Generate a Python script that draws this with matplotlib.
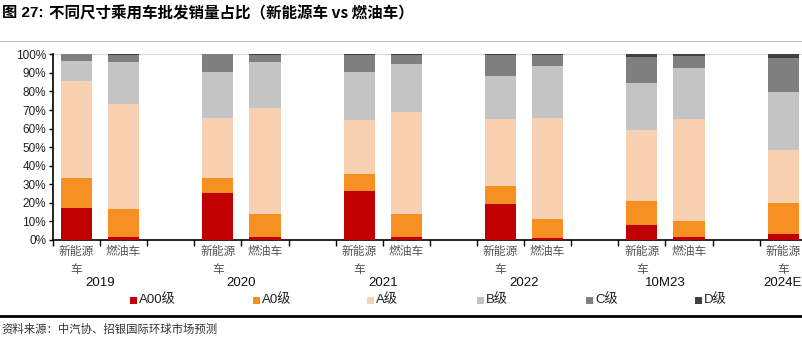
import matplotlib
matplotlib.use("Agg")
import matplotlib.pyplot as plt
from matplotlib.patches import Rectangle
from matplotlib.lines import Line2D
import matplotlib.transforms as mtransforms
import numpy as np

plt.rcParams['font.family'] = ['Liberation Sans', 'Noto Sans CJK SC', 'DejaVu Sans']

years = ['2019', '2020', '2021', '2022', '10M23', '2024E']
types = ['新能源\n车', '燃油车']
segments = ['A00级', 'A0级', 'A级', 'B级', 'C级', 'D级']
colors = ['#C00000', '#F79022', '#F8D1B2', '#C4C4C4', '#7F7F7F', '#404040']

# share (%) per segment: A00, A0, A, B, C, D
nev = [
    [17.4, 16.2, 52.0, 10.8, 3.6, 0.0],
    [25.5, 8.1, 32.3, 24.4, 9.7, 0.0],
    [26.6, 8.8, 29.2, 25.9, 9.2, 0.3],
    [19.6, 9.6, 36.1, 23.2, 11.1, 0.4],
    [8.3, 12.7, 38.2, 25.5, 13.8, 1.5],
    [3.2, 16.5, 28.9, 31.1, 18.3, 2.0],
]
ice = [
    [1.8, 15.1, 56.2, 22.9, 3.7, 0.3],
    [1.8, 12.4, 56.7, 24.8, 4.0, 0.3],
    [1.8, 12.2, 54.9, 25.9, 4.8, 0.4],
    [1.3, 9.8, 54.8, 28.0, 5.6, 0.5],
    [1.4, 8.8, 55.0, 27.4, 6.6, 0.8],
]

W, H = 803, 343
fig = plt.figure(figsize=(W / 100, H / 100), dpi=100)
ax = fig.add_axes([53 / W, (H - 240) / H, 1 - 53 / W, (240 - 54.3) / H])

bar_w = 0.66
positions, stacks = [], []
for g in range(len(years)):
    positions.append(3 * g)
    stacks.append(nev[g])
    if g < len(ice):
        positions.append(3 * g + 1)
        stacks.append(ice[g])
stacks = np.array(stacks)
bottom = np.zeros(len(positions))
for s in range(len(segments)):
    ax.bar(positions, stacks[:, s], bottom=bottom, width=bar_w,
           color=colors[s], linewidth=0, zorder=3)
    bottom += stacks[:, s]

ax.set_ylim(0, 100)
ax.set_xlim(-0.5, 15.42)
ax.set_yticks(np.arange(0, 101, 10))
ax.set_yticklabels([f'{v}%' for v in range(0, 101, 10)], fontsize=8.5, color='#222222')
ax.axhline(100, color='#D9D9D9', linewidth=0.8, zorder=1)
ax.set_xticks([k - 0.5 for k in range(16)])
ax.set_xticklabels([])
ax.tick_params(axis='x', direction='out', length=4, width=1, colors='black')
ax.tick_params(axis='y', direction='out', length=3, width=1, pad=2)
for sp in ['top', 'right']:
    ax.spines[sp].set_visible(False)
for sp in ['left', 'bottom']:
    ax.spines[sp].set_color('black')
    ax.spines[sp].set_linewidth(1.2)

trans = mtransforms.blended_transform_factory(ax.transData, fig.transFigure)
cjk = ['Noto Sans CJK SC', 'DejaVu Sans']
lab_col = '#555555'
for g, yr in enumerate(years):
    x0 = 3 * g
    ax.text(x0, 1 - 252 / H, '新能源', transform=trans, ha='center', va='center',
            fontsize=8.5, color=lab_col, family=cjk, clip_on=False)
    ax.text(x0, 1 - 270 / H, '车', transform=trans, ha='center', va='center',
            fontsize=8.5, color=lab_col, family=cjk, clip_on=False)
    if g < len(ice):
        ax.text(x0 + 1, 1 - 252 / H, '燃油车', transform=trans, ha='center', va='center',
                fontsize=8.5, color=lab_col, family=cjk, clip_on=False)
        ax.text(x0 + 0.5, 1 - 283 / H, yr, transform=trans, ha='center', va='center',
                fontsize=9.5, color='#111111', clip_on=False)
    else:
        fig.text(802 / W, 1 - 283 / H, yr, ha='right', va='center',
                 fontsize=9.5, color='#111111')

# legend
leg_x = [130, 253, 367, 477, 586, 695]
for s, lab in enumerate(segments):
    fig.patches.append(Rectangle((leg_x[s] / W, 1 - 304 / H), 7 / W, 7 / H,
                                 transform=fig.transFigure, facecolor=colors[s],
                                 edgecolor='none'))
    fig.text((leg_x[s] + 9) / W, 1 - 300 / H, lab, ha='left', va='center',
             fontsize=9.5, color='#222222',
             family=['Liberation Sans', 'Noto Sans CJK SC'])

# title
fig.text(0.002, 1 - 13 / H, '图 27:', ha='left', va='center', fontsize=11,
         fontweight='bold', color='black',
         family=['Liberation Sans', 'Noto Sans CJK SC'])
fig.text(49 / W, 1 - 13 / H, '不同尺寸乘用车批发销量占比（新能源车 vs 燃油车）',
         ha='left', va='center', fontsize=11.2, fontweight='bold', color='black',
         family=['Noto Sans CJK SC', 'DejaVu Sans'])
fig.add_artist(Line2D([0, 1], [1 - 41 / H, 1 - 41 / H], transform=fig.transFigure,
                      color='#BFBFBF', linewidth=0.8))
fig.add_artist(Line2D([0, 1], [1 - 316 / H, 1 - 316 / H], transform=fig.transFigure,
                      color='black', linewidth=2))
fig.text(0.002, 1 - 329 / H, '资料来源：中汽协、招银国际环球市场预测', ha='left',
         va='center', fontsize=8.2, color='#333333',
         family=['Noto Sans CJK SC', 'DejaVu Sans'])

fig.savefig('out.png', dpi=100)
